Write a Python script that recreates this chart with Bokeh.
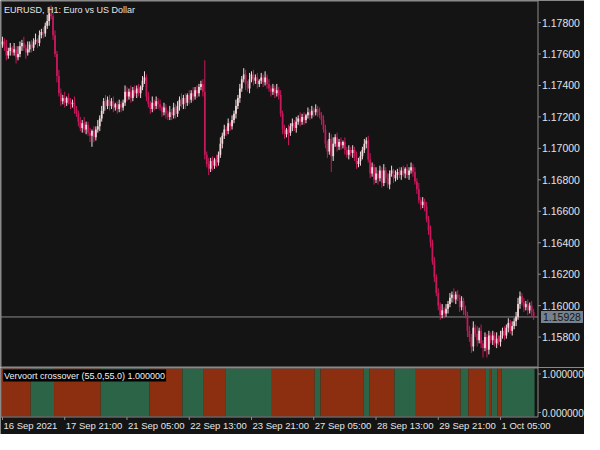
from bokeh.plotting import figure
from bokeh.layouts import column
from bokeh.models import ColumnDataSource, Range1d, Label
from bokeh.core.properties import value
from bokeh.embed import file_html
from bokeh.resources import INLINE

# ---------------- data (EURUSD H1) ----------------
OPEN0 = 1.1766
CLOSE = [
    1.1768, 1.1765, 1.1759, 1.1762, 1.1764, 1.1761, 1.1763, 1.1758, 1.1760, 1.1765,
    1.1767, 1.1764, 1.1761, 1.1763, 1.1766, 1.1764, 1.1768, 1.1769, 1.1767, 1.1772,
    1.1774, 1.1773, 1.1778, 1.1781, 1.1786, 1.1784, 1.1772, 1.1760, 1.1746, 1.1735,
    1.1730, 1.1732, 1.1729, 1.1732, 1.1730, 1.1728, 1.1729, 1.1725, 1.1722, 1.1717,
    1.1713, 1.1716, 1.1712, 1.1715, 1.1710, 1.1708, 1.1711, 1.1707, 1.1712, 1.1714,
    1.1719, 1.1724, 1.1730, 1.1727, 1.1731, 1.1727, 1.1730, 1.1726, 1.1728, 1.1725,
    1.1728, 1.1726, 1.1729, 1.1736, 1.1733, 1.1736, 1.1732, 1.1737, 1.1735, 1.1738,
    1.1735, 1.1739, 1.1743, 1.1745, 1.1733, 1.1728, 1.1725, 1.1729, 1.1727, 1.1730,
    1.1728, 1.1726, 1.1723, 1.1726, 1.1722, 1.1720, 1.1723, 1.1721, 1.1726, 1.1722,
    1.1727, 1.1731, 1.1728, 1.1732, 1.1729, 1.1734, 1.1731, 1.1735, 1.1733, 1.1737,
    1.1735, 1.1739, 1.1741, 1.1736, 1.1696, 1.1690, 1.1687, 1.1692, 1.1689, 1.1693,
    1.1691, 1.1696, 1.1703, 1.1708, 1.1712, 1.1711, 1.1716, 1.1714, 1.1718, 1.1722,
    1.1727, 1.1732, 1.1738, 1.1744, 1.1747, 1.1741, 1.1738, 1.1744, 1.1747, 1.1743,
    1.1745, 1.1741, 1.1743, 1.1745, 1.1742, 1.1745, 1.1741, 1.1738, 1.1736, 1.1738,
    1.1735, 1.1737, 1.1734, 1.1722, 1.1712, 1.1709, 1.1712, 1.1710, 1.1714, 1.1716,
    1.1713, 1.1717, 1.1719, 1.1717, 1.1720, 1.1718, 1.1721, 1.1723, 1.1721, 1.1724,
    1.1723, 1.1725, 1.1723, 1.1721, 1.1718, 1.1712, 1.1703, 1.1698, 1.1706, 1.1695,
    1.1703, 1.1707, 1.1701, 1.1704, 1.1702, 1.1704, 1.1699, 1.1696, 1.1699, 1.1697,
    1.1699, 1.1694, 1.1690, 1.1692, 1.1695, 1.1699, 1.1703, 1.1705, 1.1693, 1.1684,
    1.1688, 1.1680, 1.1684, 1.1681, 1.1686, 1.1678, 1.1686, 1.1681, 1.1677, 1.1684,
    1.1686, 1.1681, 1.1683, 1.1685, 1.1683, 1.1686, 1.1684, 1.1687, 1.1683, 1.1686,
    1.1688, 1.1685, 1.1679, 1.1674, 1.1667, 1.1664, 1.1666, 1.1663, 1.1655, 1.1648,
    1.1640, 1.1628, 1.1618, 1.1608, 1.1600, 1.1594, 1.1597, 1.1595, 1.1598, 1.1601,
    1.1605, 1.1607, 1.1604, 1.1607, 1.1605, 1.1599, 1.1603, 1.1597, 1.1594, 1.1584,
    1.1580, 1.1574, 1.1586, 1.1582, 1.1578, 1.1584, 1.1576, 1.1573, 1.1580, 1.1572,
    1.1581, 1.1578, 1.1581, 1.1576, 1.1579, 1.1577, 1.1581, 1.1584, 1.1581, 1.1586,
    1.1589, 1.1584, 1.1587, 1.1590, 1.1593, 1.1601, 1.1606, 1.1602, 1.1599, 1.1601,
    1.1597, 1.1600, 1.1596, 1.15928,
]
# upper / lower shadow lengths, in pips
WICK_UP = [
    3, 2, 4, 2, 3, 1, 4, 2, 5, 3,  2, 4, 2, 5, 2, 3, 2, 4, 1, 3,
    2, 3, 2, 4, 4, 5, 2, 3, 2, 4,  3, 2, 4, 1, 3, 2, 2, 4, 2, 2,
    3, 2, 4, 2, 2, 3, 1, 3, 2, 4,  2, 3, 2, 4, 2, 3, 2, 3, 1, 2,
    3, 2, 2, 4, 3, 2, 4, 2, 3, 2,  3, 1, 3, 4, 2, 3, 2, 4, 2, 3,
    2, 3, 1, 3, 2, 2, 4, 2, 3, 2,  3, 2, 4, 2, 3, 1, 3, 2, 4, 2,
    3, 2, 2, 3, 20, 2, 4, 2, 3, 1, 3, 2, 4, 2, 3, 2, 3, 1, 3, 2,
    4, 2, 3, 2, 4, 3, 2, 4, 2, 3,  2, 3, 1, 3, 2, 4, 2, 3, 2, 3,
    2, 4, 2, 3, 2, 3, 1, 3, 2, 3,  2, 3, 2, 4, 2, 3, 1, 3, 2, 3,
    2, 3, 2, 3, 2, 3, 3, 2, 4, 3,  4, 2, 3, 2, 3, 1, 3, 2, 3, 2,
    3, 2, 4, 2, 3, 2, 3, 2, 3, 4,  3, 2, 4, 2, 3, 2, 4, 2, 3, 2,
    3, 1, 3, 2, 3, 2, 3, 1, 3, 2,  3, 2, 3, 2, 4, 2, 3, 2, 3, 2,
    3, 2, 3, 2, 3, 2, 4, 2, 3, 2,  3, 2, 4, 2, 3, 2, 3, 2, 3, 2,
    3, 2, 4, 2, 5, 2, 4, 2, 3, 2,  3, 2, 3, 2, 4, 2, 3, 2, 3, 2,
    3, 2, 3, 2, 3, 4, 3, 2, 3, 2,  3, 2, 3, 2,
]
WICK_DN = [
    2, 3, 3, 2, 3, 2, 2, 4, 2, 2,  3, 2, 4, 2, 2, 3, 2, 2, 3, 2,
    2, 3, 2, 2, 3, 2, 3, 2, 4, 2,  3, 2, 3, 2, 2, 3, 2, 3, 2, 3,
    2, 3, 2, 3, 2, 4, 7, 3, 2, 2,  3, 2, 2, 3, 2, 3, 2, 3, 2, 3,
    2, 3, 2, 2, 3, 2, 3, 2, 2, 3,  2, 3, 2, 2, 3, 2, 3, 2, 3, 2,
    3, 2, 3, 2, 3, 2, 2, 3, 2, 3,  2, 3, 2, 3, 4, 2, 3, 2, 3, 2,
    3, 2, 2, 3, 3, 2, 4, 2, 3, 2,  3, 2, 2, 3, 2, 3, 2, 3, 2, 2,
    3, 2, 3, 2, 2, 4, 2, 3, 2, 3,  2, 3, 2, 2, 3, 2, 3, 2, 3, 2,
    3, 2, 3, 2, 3, 3, 2, 8, 2, 3,  2, 3, 2, 3, 2, 3, 2, 2, 3, 2,
    3, 2, 3, 2, 3, 2, 3, 4, 2, 10, 3, 2, 3, 2, 3, 2, 3, 2, 3, 2,
    3, 2, 3, 2, 3, 2, 2, 3, 2, 3,  2, 3, 2, 4, 2, 3, 2, 3, 2, 3,
    2, 3, 2, 3, 2, 3, 2, 3, 2, 3,  2, 3, 2, 3, 2, 3, 2, 3, 2, 3,
    3, 2, 3, 2, 3, 3, 2, 3, 2, 3,  2, 3, 2, 3, 2, 3, 2, 3, 2, 4,
    3, 4, 3, 2, 4, 2, 3, 6, 2, 5,  3, 2, 3, 2, 3, 2, 3, 2, 3, 2,
    3, 2, 3, 2, 3, 2, 3, 2, 3, 2,  3, 2, 3, 2,
]
LAST_PRICE = 1.15928

# Vervoort crossover histogram: state runs (0 = bearish, 1 = bullish), lengths in bars
SIG_STATE = [0, 1, 0, 1, 0, 1, 0, 1, 0, 1, 0, 1, 0, 1, 0, 1, 0, 1, 0, 1, 0, 1]
SIG_LEN = [15, 12, 24, 25, 17, 11, 11, 24, 22, 3, 22, 3, 13, 11, 23, 4, 9, 2, 1, 3, 2, 17]
SIG_VALUE = 1.0

Y_TICKS = [1.158, 1.160, 1.162, 1.164, 1.166, 1.168, 1.170, 1.172, 1.174, 1.176, 1.178]
X_TICK_BARS = [0, 32, 64, 96, 128, 160, 192, 224, 256]
X_TICK_LABELS = ["16 Sep 2021", "17 Sep 21:00", "21 Sep 05:00", "22 Sep 13:00",
                 "23 Sep 21:00", "27 Sep 05:00", "28 Sep 13:00", "29 Sep 21:00",
                 "1 Oct 05:00"]
IND_MIN, IND_MAX = 0.0, 1.0

# ---------------- styling / geometry ----------------
BG = "#141414"
BORDER = "#8c8c8c"
TXT = "#e4e4e4"
BULL = "#f4dadc"
BEAR = "#c8185c"
SIG_COL = {0: "#8b2f10", 1: "#2b6446"}
FONT = "Liberation Sans"

W = 584
CHART_W = 536          # pixels of the bar area
AXIS_W = W - 1 - CHART_W
H_A, PRICE_H = 367, 365
H_B, IND_H, LAB_H = 67, 48, 18

X_LO, X_HI = -0.5, 275.0
P_LO, P_HI = 1.15613, 1.17934
ppb = CHART_W / (X_HI - X_LO)            # px per bar
ppp = PRICE_H / (P_HI - P_LO)            # px per price unit
ppi = IND_H / (IND_MAX - IND_MIN)        # px per indicator unit

XR = Range1d(X_LO - 1 / ppb, X_HI + AXIS_W / ppb)
YA = Range1d(P_LO - 1 / ppp, P_HI + 1 / ppp)
YB = Range1d(IND_MIN - LAB_H / ppi, IND_MAX + 1 / ppi)

# ---------------- derived candle data ----------------
N = len(CLOSE)
idx = list(range(N))
opens = [OPEN0] + CLOSE[:-1]
pip = 0.0001
top = [max(o, c) for o, c in zip(opens, CLOSE)]
bot = [min(o, c) for o, c in zip(opens, CLOSE)]
high = [t + u * pip for t, u in zip(top, WICK_UP)]
low = [b - d * pip for b, d in zip(bot, WICK_DN)]
cols = [BULL if c >= o else BEAR for o, c in zip(opens, CLOSE)]
src = ColumnDataSource(dict(x=idx, top=top, bot=bot, high=high, low=low, col=cols))


def base_fig(h, yr):
    f = figure(width=W, height=h, x_range=XR, y_range=yr, output_backend="svg",
               toolbar_location=None, x_axis_location=None, y_axis_location=None,
               min_border=0, min_border_left=0, min_border_right=0, min_border_top=0,
               min_border_bottom=0, background_fill_color=BG, border_fill_color=BG,
               outline_line_color=None)
    f.grid.visible = False
    return f


# ---------------- main price panel ----------------
p1 = base_fig(H_A, YA)
xl = X_LO - 0.5 / ppb
xr = X_HI + 0.5 / ppb
yt = P_HI + 0.5 / ppp
yb = P_LO - 0.5 / ppp
# frame borders and right price-scale line
p1.segment(x0=[xl, xl, xl], y0=[yb, yt, yb], x1=[xl, xr, xr], y1=[yt, yt, yb],
           line_color=BORDER, line_width=1)
p1.segment(x0=[xr], y0=[YA.start], x1=[xr], y1=[YA.end], line_color=BORDER, line_width=1)
# last price line
p1.segment(x0=[xl], y0=[LAST_PRICE], x1=[xr], y1=[LAST_PRICE], line_color="#8a8a8a", line_width=1)

p1.segment(x0="x", y0="high", x1="x", y1="low", line_color="col", line_width=1, source=src)
p1.vbar(x="x", width=0.9, top="top", bottom="bot", fill_color="col", line_color=None, source=src)

# price scale ticks and labels
p1.segment(x0=[xr] * len(Y_TICKS), y0=Y_TICKS, x1=[xr + 3 / ppb] * len(Y_TICKS), y1=Y_TICKS,
           line_color=BORDER, line_width=1)
p1.text(x=[xr + 4 / ppb] * len(Y_TICKS), y=Y_TICKS, text=[f"{t:.5f}" for t in Y_TICKS],
        text_baseline="middle", text_align="left", text_color=TXT,
        text_font=value(FONT), text_font_size=value("10.5px"))

p1.add_layout(Label(x=xl, y=P_HI, x_offset=3, y_offset=-3, text="EURUSD, H1:  Euro vs US Dollar",
                    text_baseline="top", text_align="left", text_color=TXT, text_font=FONT,
                    text_font_size="9px"))
p1.add_layout(Label(x=xr, y=LAST_PRICE, x_offset=3, text=f"{LAST_PRICE:.5f}", text_baseline="middle",
                    text_align="left", text_color="#161616", text_font=FONT, text_font_size="10.5px",
                    background_fill_color="#75828f", padding=2))

# ---------------- indicator panel ----------------
lefts, rights, scol = [], [], []
start = 0
for s, n in zip(SIG_STATE, SIG_LEN):
    lefts.append(start - 0.5)
    rights.append(start + n - 0.5)
    scol.append(SIG_COL[s])
    start += n

p2 = base_fig(H_B, YB)
p2.quad(left=lefts, right=rights, bottom=IND_MIN, top=SIG_VALUE, fill_color=scol, line_color=None)

it = IND_MAX + 0.5 / ppi
ib = IND_MIN - 0.5 / ppi
p2.segment(x0=[xl, xl, xl, xr], y0=[ib, it, ib, ib], x1=[xl, xr, xr, xr], y1=[it, it, ib, it],
           line_color=BORDER, line_width=1)
# time ticks and labels
p2.segment(x0=X_TICK_BARS, y0=[ib] * len(X_TICK_BARS), x1=X_TICK_BARS,
           y1=[ib - 3 / ppi] * len(X_TICK_BARS), line_color=BORDER, line_width=1)
p2.text(x=[b + 1 / ppb for b in X_TICK_BARS], y=[ib - 3 / ppi] * len(X_TICK_BARS), text=X_TICK_LABELS,
        text_baseline="top", text_align="left", text_color=TXT,
        text_font=value(FONT), text_font_size=value("9.5px"))
# indicator scale
ind_lab_y = [IND_MAX - 5.5 / ppi, IND_MIN + 4 / ppi]
p2.segment(x0=[xr, xr], y0=ind_lab_y, x1=[xr + 3 / ppb] * 2, y1=ind_lab_y, line_color=BORDER, line_width=1)
p2.text(x=[xr + 4 / ppb] * 2, y=ind_lab_y, text=[f"{IND_MAX:.6f}", f"{IND_MIN:.6f}"],
        text_baseline="middle", text_align="left", text_color=TXT,
        text_font=value(FONT), text_font_size=value("10px"))

p2.add_layout(Label(x=xl, y=IND_MAX, x_offset=2, y_offset=-1,
                    text=f"Vervoort crossover (55.0,55.0) {SIG_VALUE:.6f}", text_baseline="top",
                    text_align="left", text_color="#f0f0f0", text_font=FONT, text_font_size="9px",
                    background_fill_color="#000000", padding=1))

layout = column(p1, p2, spacing=0)
open("out.html", "w").write(file_html(layout, INLINE))
